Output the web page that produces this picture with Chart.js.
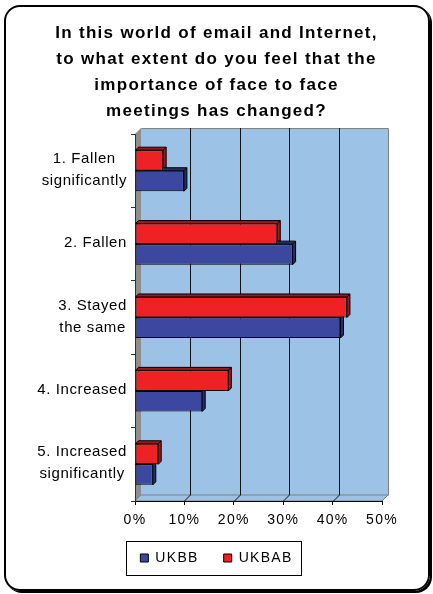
<!DOCTYPE html>
<html>
<head>
<meta charset="utf-8">
<script src="https://cdn.jsdelivr.net/npm/chart.js@4.4.1/dist/chart.umd.min.js"></script>
<style>
  html, body { margin: 0; padding: 0; background: #fff; }
  #wrap { position: relative; width: 433px; height: 594px; }
  #frame { position: absolute; left: 4px; top: 5px; width: 426px; height: 586px; box-sizing: border-box;
           border: 2px solid #000; border-radius: 16px; box-shadow: 2px 2px 0 #000; }
  canvas { position: absolute; left: 0; top: 0; }
</style>
</head>
<body>
<div id="wrap">
  <div id="frame"></div>
  <canvas id="myChart" width="433" height="594"></canvas>
</div>
<script>
// chart data
const titleLines = [
    'In this world of email and Internet,',
    'to what extent do you feel that the',
    'importance of face to face',
    'meetings has changed?'
];
const categories = [
    ['1. Fallen', 'significantly'],
    ['2. Fallen'],
    ['3. Stayed', 'the same'],
    ['4. Increased'],
    ['5. Increased', 'significantly']
];
const ukbb = [9.9, 31.9, 41.6, 13.6, 3.6];
const ukbab = [5.7, 28.8, 42.9, 18.9, 4.7];
const xTickValues = [0, 10, 20, 30, 40, 50];

const WALL = 6;      // depth of the back wall
const BAR_DEPTH = 3; // depth of each bar

// fake excel 3d look: walls, floor, bar sides, label block and legend frame
const excel3d = {
    id: 'excel3d',
    beforeUpdate(chart) {
        chart.ctx.letterSpacing = '1.3px';
    },
    beforeDraw(chart) {
        const ctx = chart.ctx;
        ctx.letterSpacing = '1.3px';
        const { left, right, top, bottom } = chart.chartArea;
        const d = WALL;
        ctx.save();
        ctx.lineWidth = 1;
        // back wall
        ctx.fillStyle = '#9cc2e5';
        ctx.fillRect(left + d, top - d, right - left, bottom - top);
        // floor
        ctx.beginPath();
        ctx.moveTo(left, bottom);
        ctx.lineTo(left + d, bottom - d);
        ctx.lineTo(right + d, bottom - d);
        ctx.lineTo(right, bottom);
        ctx.closePath();
        ctx.fill();
        ctx.strokeStyle = '#808080';
        ctx.stroke();
        // side wall
        ctx.fillStyle = '#8e8e8e';
        ctx.beginPath();
        ctx.moveTo(left, top);
        ctx.lineTo(left + d, top - d);
        ctx.lineTo(left + d, bottom - d);
        ctx.lineTo(left, bottom);
        ctx.closePath();
        ctx.fill();
        // wall outline
        ctx.strokeStyle = '#808080';
        ctx.beginPath();
        ctx.moveTo(left + d + 0.5, top - d + 0.5);
        ctx.lineTo(right + d + 0.5, top - d + 0.5);
        ctx.lineTo(right + d + 0.5, bottom - d + 0.5);
        ctx.stroke();
        // gridlines on wall and floor
        const xs = chart.scales.x;
        ctx.strokeStyle = '#111';
        xTickValues.slice(1, -1).forEach(v => {
            const px = Math.round(xs.getPixelForValue(v)) + 0.5;
            ctx.beginPath();
            ctx.moveTo(px + d, top - d);
            ctx.lineTo(px + d, bottom - d);
            ctx.lineTo(px, bottom);
            ctx.stroke();
        });
        ctx.restore();
    },
    beforeDatasetsDraw(chart) {
        const ctx = chart.ctx;
        const d = BAR_DEPTH;
        ctx.save();
        ctx.lineWidth = 1;
        ctx.strokeStyle = '#000';
        chart.data.datasets.forEach((ds, i) => {
            chart.getDatasetMeta(i).data.forEach(bar => {
                const { x, y, base, height } = bar.getProps(['x', 'y', 'base', 'height'], true);
                const t = y - height / 2, b = y + height / 2;
                ctx.fillStyle = ds.sideColor;
                ctx.beginPath();
                ctx.moveTo(base, t);
                ctx.lineTo(base + d, t - d);
                ctx.lineTo(x + d, t - d);
                ctx.lineTo(x + d, b - d);
                ctx.lineTo(x, b);
                ctx.lineTo(x, t);
                ctx.closePath();
                ctx.fill();
                ctx.stroke();
                ctx.beginPath();
                ctx.moveTo(x, t);
                ctx.lineTo(x + d, t - d);
                ctx.stroke();
            });
        });
        ctx.restore();
    },
    afterDraw(chart) {
        const ctx = chart.ctx;
        const ys = chart.scales.y;
        ctx.save();
        // category labels, lines centred in a right aligned block
        ctx.font = '15px "Liberation Sans", Arial, sans-serif';
        ctx.letterSpacing = '0.6px';
        ctx.fillStyle = '#000';
        ctx.textAlign = 'center';
        ctx.textBaseline = 'middle';
        categories.forEach((lines, i) => {
            const yc = ys.getPixelForTick(i) - 1;
            const w = Math.max(...lines.map(l => ctx.measureText(l).width));
            const xc = chart.chartArea.left - 8 - w / 2;
            lines.forEach((l, j) => ctx.fillText(l, xc, yc + (j - (lines.length - 1) / 2) * 22));
        });
        // legend frame
        const hb = chart.legend.legendHitBoxes;
        const l = Math.min(...hb.map(h => h.left)) - 14;
        const r = Math.max(...hb.map(h => h.left + h.width)) + 9;
        const cy = hb[0].top + hb[0].height / 2;
        ctx.strokeStyle = '#000';
        ctx.lineWidth = 1;
        ctx.strokeRect(Math.round(l) + 0.5, Math.round(cy - 17) + 0.5, Math.round(r - l), 34);
        ctx.restore();
    }
};

Chart.defaults.font.family = '"Liberation Sans", Arial, sans-serif';
Chart.defaults.color = '#000';

document.addEventListener('DOMContentLoaded', () => {
    const ctx = document.getElementById('myChart').getContext('2d');

    new Chart(ctx, {
        type: 'bar',
        data: {
            labels: categories,
            datasets: [{
                label: 'UKBAB',
                data: ukbab,
                backgroundColor: '#ee2124',
                sideColor: '#a3161a',
                borderColor: '#000',
                borderWidth: 1,
                borderSkipped: false,
                xAxisID: 'x',
                yAxisID: 'y'
            }, {
                label: 'UKBB',
                data: ukbb,
                backgroundColor: '#3c479f',
                sideColor: '#252d6b',
                borderColor: '#000',
                borderWidth: 1,
                borderSkipped: false,
                xAxisID: 'x',
                yAxisID: 'y'
            }]
        },
        options: {
            indexAxis: 'y',
            responsive: false,
            animation: false,
            categoryPercentage: 0.56,
            barPercentage: 1,
            layout: { padding: { top: 0, bottom: 19, left: 0, right: 0 } },
            plugins: {
                title: {
                    display: true,
                    text: titleLines,
                    color: '#000',
                    font: { size: 17, weight: 'bold', lineHeight: 1.53 },
                    padding: { top: 20, bottom: 10 }
                },
                legend: {
                    position: 'bottom',
                    reverse: true,
                    labels: { boxWidth: 8, boxHeight: 8, padding: 25, color: '#000', font: { size: 14 } }
                },
                tooltip: { enabled: false }
            },
            scales: {
                x: {
                    type: 'linear',
                    position: 'bottom',
                    min: 0,
                    max: 50,
                    afterBuildTicks: s => { s.ticks = xTickValues.map(v => ({ value: v })); },
                    afterFit: s => { s.height = 25; },
                    grid: { drawOnChartArea: false, tickLength: 4, color: '#000' },
                    border: { display: true, color: '#000' },
                    ticks: { padding: 7, font: { size: 14 }, color: '#000', callback: v => v + '%' }
                },
                y: {
                    type: 'category',
                    afterFit: s => { s.width = 135; },
                    grid: { drawOnChartArea: false, offset: true, tickLength: 4, color: '#333' },
                    border: { display: true, color: '#333' },
                    ticks: { display: false }
                },
                yPad: {
                    type: 'linear',
                    position: 'right',
                    afterFit: s => { s.width = 51; },
                    grid: { display: false },
                    border: { display: false },
                    ticks: { display: false }
                }
            }
        },
        plugins: [excel3d]
    });
});
</script>
</body>
</html>
